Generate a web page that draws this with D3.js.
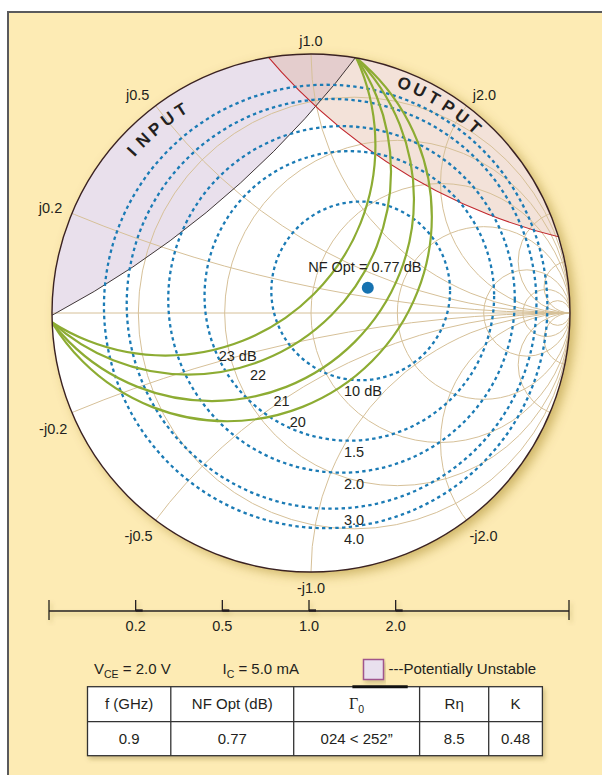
<!DOCTYPE html>
<html>
<head>
<meta charset="utf-8">
<script src="https://cdn.jsdelivr.net/npm/d3@7"></script>
<style>
body{margin:0;background:#fff;}
svg{display:block;font-family:"Liberation Sans",Arial,sans-serif;}
</style>
</head>
<body>
<svg></svg>
<script>
// ---- chart values ----
var resistances=[0.2,0.5,1,2,5,10,20];
var reactances=[0.2,0.5,1,2,5,10];
var reactLabels=[0.2,0.5,1.0,2.0];
var scaleTicks=[0.2,0.5,1.0,2.0];

// noise circles (NF in dB), centre magnitude and radius in the reflection plane
var noiseLevels=[1.0,1.5,2.0,3.0,4.0];
var noiseLabels=["10 dB","1.5","2.0","3.0","4.0"];
var noiseCenterMag=[0.210,0.162,0.129,0.087,0.062];
var noiseRadius=[0.345,0.559,0.669,0.791,0.856];
var gammaOptMag=0.24, gammaOptAng=24, nfOpt=0.77;

// gain circles
var gainLevels=[23,22,21,20];
var gainLabels=["23 dB","22","21","20"];
var gainCenterMag=[0.857,0.724,0.583,0.493];
var gainCenterAng=131;
var gainRadius=[0.811,0.784,0.780,0.790];

// stability circles
var stabNames=["INPUT","OUTPUT"];
var stabCenterMag=[4.148,2.808];
var stabCenterAng=[130.3,58.25];
var stabRadius=[3.591,2.158];

// table
var tableHead=["f (GHz)","NF Opt (dB)","\u03930","R\u03b7","K"];
var tableRow=["0.9","0.77","024 < 252\u201d","8.5","0.48"];

// ---- layout ----
var width=602, height=775;
var cx=311, cy=313, R=259;
var ink="#231f20";
var rad=Math.PI/180;

var svg=d3.select("svg").attr("width",width).attr("height",height);

var gx=d3.scaleLinear().domain([-1,1]).range([cx-R,cx+R]);
var gy=d3.scaleLinear().domain([-1,1]).range([cy+R,cy-R]);
function polar(mag,ang){return [mag*Math.cos(ang*rad),mag*Math.sin(ang*rad)];}

var defs=svg.append("defs");
defs.append("clipPath").attr("id","disk")
	.append("circle").attr("cx",cx).attr("cy",cy).attr("r",R);
var inC=polar(stabCenterMag[0],stabCenterAng[0]);
var outC=polar(stabCenterMag[1],stabCenterAng[1]);
defs.append("clipPath").attr("id","instab")
	.append("circle").attr("cx",gx(inC[0])).attr("cy",gy(inC[1])).attr("r",stabRadius[0]*R);

var sh=defs.append("filter").attr("id","shadow").attr("x","-20%").attr("y","-20%").attr("width","140%").attr("height","140%");
sh.append("feDropShadow").attr("dx",5).attr("dy",4).attr("stdDeviation",6)
	.attr("flood-color","#8f6e10").attr("flood-opacity",0.45);
var sh2=defs.append("filter").attr("id","shadow2").attr("x","-10%").attr("y","-30%").attr("width","120%").attr("height","160%");
sh2.append("feDropShadow").attr("dx",2).attr("dy",3).attr("stdDeviation",2)
	.attr("flood-color","#6b5a20").attr("flood-opacity",0.3);

// frame
svg.append("rect").attr("width",width).attr("height",height).attr("fill","#fff");
svg.append("rect").attr("x",8).attr("y",12).attr("width",700).attr("height",800)
	.attr("fill","#fdebb4").attr("stroke","#5a5a5c").attr("stroke-width",2);

// chart disk
svg.append("circle").attr("cx",cx).attr("cy",cy).attr("r",R)
	.attr("fill","#fff").attr("filter","url(#shadow)");

var chart=svg.append("g").attr("clip-path","url(#disk)");

// unstable regions
chart.append("circle").attr("cx",gx(inC[0])).attr("cy",gy(inC[1])).attr("r",stabRadius[0]*R).attr("fill","#e9e0ec");
chart.append("circle").attr("cx",gx(outC[0])).attr("cy",gy(outC[1])).attr("r",stabRadius[1]*R).attr("fill","#f3e2d9");
chart.append("g").attr("clip-path","url(#instab)")
	.append("circle").attr("cx",gx(outC[0])).attr("cy",gy(outC[1])).attr("r",stabRadius[1]*R).attr("fill","#e4cdcd");

// smith grid
var grid=chart.append("g").attr("fill","none").attr("stroke","#d6c098").attr("stroke-width",1);
grid.selectAll(".rc").data(resistances).enter().append("circle").classed("rc",true)
	.attr("cx",d=>gx(d/(1+d))).attr("cy",gy(0)).attr("r",d=>R/(1+d));
grid.selectAll(".xp").data(reactances).enter().append("circle").classed("xp",true)
	.attr("cx",gx(1)).attr("cy",d=>gy(1/d)).attr("r",d=>R/d);
grid.selectAll(".xn").data(reactances).enter().append("circle").classed("xn",true)
	.attr("cx",gx(1)).attr("cy",d=>gy(-1/d)).attr("r",d=>R/d);
grid.append("line").attr("x1",gx(-1)).attr("x2",gx(1)).attr("y1",gy(0)).attr("y2",gy(0));

// stability boundaries
chart.append("circle").attr("cx",gx(inC[0])).attr("cy",gy(inC[1])).attr("r",stabRadius[0]*R)
	.attr("fill","none").attr("stroke","#2b2222").attr("stroke-width",0.9);
chart.append("circle").attr("cx",gx(outC[0])).attr("cy",gy(outC[1])).attr("r",stabRadius[1]*R)
	.attr("fill","none").attr("stroke","#c1272d").attr("stroke-width",1.1);

// noise circles
var noise=noiseLevels.map(function(n,i){
	var c=polar(noiseCenterMag[i],gammaOptAng);
	return {x:gx(c[0]),y:gy(c[1]),r:noiseRadius[i]*R,label:noiseLabels[i]};
});
chart.selectAll(".nc").data(noise).enter().append("circle").classed("nc",true)
	.attr("cx",d=>d.x).attr("cy",d=>d.y).attr("r",d=>d.r)
	.attr("fill","none").attr("stroke","#1b7bb5").attr("stroke-width",2.3)
	.attr("stroke-dasharray","3.4,3.3");

// gain circles
var gains=gainLevels.map(function(g,i){
	var c=polar(gainCenterMag[i],gainCenterAng);
	return {x:gx(c[0]),y:gy(c[1]),r:gainRadius[i]*R,label:gainLabels[i]};
});
chart.selectAll(".gc").data(gains).enter().append("circle").classed("gc",true)
	.attr("cx",d=>d.x).attr("cy",d=>d.y).attr("r",d=>d.r)
	.attr("fill","none").attr("stroke","#8dac33").attr("stroke-width",2.2);

// outer rim
svg.append("circle").attr("cx",cx).attr("cy",cy).attr("r",R)
	.attr("fill","none").attr("stroke","#3a2222").attr("stroke-width",1.4);

// NF opt point
var go=polar(gammaOptMag,gammaOptAng);
svg.append("circle").attr("cx",gx(go[0])).attr("cy",gy(go[1])).attr("r",6).attr("fill","#1672b0");
svg.append("text").attr("x",gx(go[0])-3).attr("y",gy(go[1])-21).attr("dy","0.35em")
	.attr("text-anchor","middle").attr("font-size",14.5).attr("fill",ink)
	.text("NF Opt = "+nfOpt+" dB");

// labels
var lab=svg.append("g").attr("font-size",14.5).attr("fill",ink);
lab.selectAll(".gl").data(gains).enter().append("text").classed("gl",true)
	.attr("x",d=>d.x+(d.r+12)*Math.cos(71*rad))
	.attr("y",d=>d.y+(d.r+12)*Math.sin(71*rad))
	.attr("dy","0.35em").attr("text-anchor","middle").text(d=>d.label);
lab.selectAll(".nl").data(noise).enter().append("text").classed("nl",true)
	.attr("x",cx+33).attr("y",d=>d.y+d.r+11)
	.attr("dy","0.35em").text(d=>d.label);

// reactance labels round the rim
var rimLabels=[];
reactLabels.forEach(function(x){
	[1,-1].forEach(function(s){
		var gr=(x*x-1)/(x*x+1), gi=s*2*x/(x*x+1);
		rimLabels.push({gr:gr,gi:gi,text:(s<0?"-":"")+"j"+x.toFixed(1)});
	});
});
lab.selectAll(".rl").data(rimLabels).enter().append("text").classed("rl",true)
	.attr("x",d=>gx(d.gr)+(d.gi>0?10.5:5)*d.gr)
	.attr("y",d=>d.gi>0?gy(d.gi)-13*d.gi:gy(d.gi)+16)
	.attr("dy","0.35em")
	.attr("text-anchor",d=>d.gr<-0.1?"end":(d.gr>0.1?"start":"middle"))
	.text(d=>d.text);

// INPUT / OUTPUT lettered along the rim
var stabTextR=[241.5,248];
var letterStep=3.85;
stabNames.forEach(function(name,i){
	var letters=name.split("");
	var mid=(letters.length-1)/2;
	svg.append("g").attr("font-size",17).attr("font-weight","bold").attr("fill",ink)
		.selectAll("text").data(letters).enter().append("text")
		.attr("text-anchor","middle").attr("dy","0.36em")
		.attr("transform",function(d,k){
			var a=stabCenterAng[i]+(mid-k)*letterStep;
			var px=cx+stabTextR[i]*Math.cos(a*rad), py=cy-stabTextR[i]*Math.sin(a*rad);
			return "translate("+px+","+py+") rotate("+(90-a)+")";
		})
		.text(d=>d);
});

// resistance scale below the chart
var sx=d3.scaleLinear().domain([-1,1]).range([49,569]);
var sy=611;
var scale=svg.append("g").attr("filter","url(#shadow2)").attr("stroke",ink);
scale.append("line").attr("x1",sx(-1)).attr("x2",sx(1)).attr("y1",sy).attr("y2",sy).attr("stroke-width",1.3);
scale.selectAll(".end").data([-1,1]).enter().append("line").classed("end",true)
	.attr("x1",d=>sx(d)).attr("x2",d=>sx(d)).attr("y1",sy-11).attr("y2",sy+9).attr("stroke-width",1.3);
scale.selectAll(".tk").data(scaleTicks).enter().append("line").classed("tk",true)
	.attr("x1",d=>sx((d-1)/(d+1))).attr("x2",d=>sx((d-1)/(d+1)))
	.attr("y1",sy-11).attr("y2",sy).attr("stroke-width",1.3);
scale.selectAll(".ft").data(scaleTicks).enter().append("line").classed("ft",true)
	.attr("x1",d=>sx((d-1)/(d+1))).attr("x2",d=>sx((d-1)/(d+1))+7)
	.attr("y1",sy-0.5).attr("y2",sy-0.5).attr("stroke-width",2.4);
svg.selectAll(".tl").data(scaleTicks).enter().append("text").classed("tl",true)
	.attr("x",d=>sx((d-1)/(d+1))).attr("y",sy+15).attr("dy","0.35em")
	.attr("text-anchor","middle").attr("font-size",14.5).attr("fill",ink)
	.text(d=>d.toFixed(1));

// bias conditions and legend
var leg=svg.append("g").attr("font-size",15).attr("fill",ink);
var t1=leg.append("text").attr("x",94).attr("y",673.5);
t1.append("tspan").text("V");
t1.append("tspan").attr("font-size",10.5).attr("dy",4).text("CE");
t1.append("tspan").attr("dy",-4).text(" = 2.0 V");
var t2=leg.append("text").attr("x",222.5).attr("y",673.5);
t2.append("tspan").text("I");
t2.append("tspan").attr("font-size",10.5).attr("dy",4).text("C");
t2.append("tspan").attr("dy",-4).text(" = 5.0 mA");
leg.append("rect").attr("x",363.5).attr("y",659.5).attr("width",20).attr("height",20)
	.attr("fill","#e9e0ee").attr("stroke","#a0558c").attr("stroke-width",1.5)
	.attr("filter","url(#shadow2)");
leg.append("text").attr("x",388.5).attr("y",673.5).text("---Potentially Unstable");

// table
var colX=[87.5,170.8,293.7,419.6,488.7,542.4];
var rowY=[686.7,721.7,755.7];
var tbl=svg.append("g");
tbl.append("rect").attr("x",colX[0]).attr("y",rowY[0]).attr("width",colX[5]-colX[0]).attr("height",rowY[2]-rowY[0])
	.attr("fill","#fff").attr("stroke","#333").attr("stroke-width",1.3).attr("filter","url(#shadow2)");
tbl.selectAll(".vl").data(colX.slice(1,5)).enter().append("line").classed("vl",true)
	.attr("x1",d=>d).attr("x2",d=>d).attr("y1",rowY[0]).attr("y2",rowY[2])
	.attr("stroke","#333").attr("stroke-width",1.3);
tbl.append("line").attr("x1",colX[0]).attr("x2",colX[5]).attr("y1",rowY[1]).attr("y2",rowY[1])
	.attr("stroke","#333").attr("stroke-width",1.3);
tbl.append("line").attr("x1",352.4).attr("x2",407.7).attr("y1",rowY[0]).attr("y2",rowY[0])
	.attr("stroke","#111").attr("stroke-width",3);
[tableHead,tableRow].forEach(function(row,r){
	row.forEach(function(cell,c){
		var t=tbl.append("text").attr("x",(colX[c]+colX[c+1])/2).attr("y",(rowY[r]+rowY[r+1])/2)
			.attr("dy","0.35em").attr("text-anchor","middle").attr("font-size",15).attr("fill",ink);
		if(r==0 && c==2){
			t.append("tspan").attr("font-family","'Liberation Serif',serif").attr("font-size",16).text("\u0393");
			t.append("tspan").attr("font-size",10.5).attr("dy",4).text("0");
		}else{
			t.text(cell);
		}
	});
});
</script>
</body>
</html>
